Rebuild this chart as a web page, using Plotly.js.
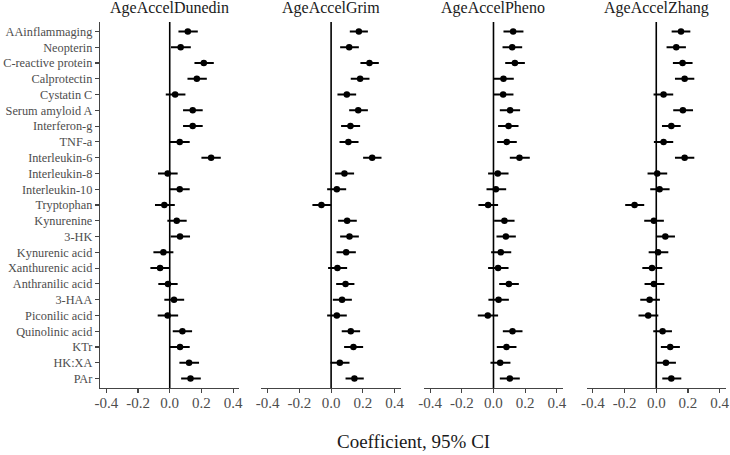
<!DOCTYPE html>
<html>
<head>
<meta charset="utf-8">
<script src="https://cdn.plot.ly/plotly-3.0.1.min.js"></script>
<style>html,body{margin:0;padding:0;background:#fff;}#chart{width:730px;height:455px;}</style>
</head>
<body>
<div id="chart"></div>
<script>
const categories = ['AAinflammaging','Neopterin','C-reactive protein','Calprotectin','Cystatin C','Serum amyloid A','Interferon-g','TNF-a','Interleukin-6','Interleukin-8','Interleukin-10','Tryptophan','Kynurenine','3-HK','Kynurenic acid','Xanthurenic acid','Anthranilic acid','3-HAA','Piconilic acid','Quinolinic acid','KTr','HK:XA','PAr'];

const panelTitles = ['AgeAccelDunedin','AgeAccelGrim','AgeAccelPheno','AgeAccelZhang'];

const dunedinEst = [0.114,0.069,0.215,0.171,0.034,0.145,0.145,0.063,0.261,-0.013,0.063,-0.034,0.044,0.065,-0.040,-0.061,-0.011,0.027,-0.013,0.080,0.065,0.122,0.131];
const dunedinLo  = [0.055,0.008,0.156,0.112,-0.025,0.084,0.084,0.000,0.200,-0.074,0.000,-0.093,-0.015,0.006,-0.103,-0.122,-0.072,-0.034,-0.076,0.019,0.000,0.061,0.072];
const dunedinHi  = [0.177,0.133,0.278,0.234,0.099,0.208,0.208,0.126,0.322,0.050,0.126,0.032,0.107,0.128,0.023,-0.002,0.050,0.091,0.053,0.141,0.126,0.185,0.196];

const grimEst = [0.175,0.114,0.242,0.183,0.099,0.171,0.122,0.109,0.259,0.084,0.036,-0.061,0.101,0.116,0.095,0.040,0.091,0.069,0.036,0.124,0.141,0.055,0.147];
const grimLo  = [0.118,0.057,0.185,0.124,0.040,0.114,0.063,0.053,0.202,0.025,-0.025,-0.118,0.044,0.057,0.034,-0.019,0.032,0.011,-0.025,0.067,0.082,-0.004,0.091];
const grimHi  = [0.232,0.175,0.301,0.242,0.158,0.232,0.183,0.173,0.318,0.145,0.095,0.000,0.162,0.175,0.156,0.101,0.147,0.131,0.099,0.183,0.202,0.116,0.206];

const phenoEst = [0.124,0.118,0.135,0.063,0.061,0.105,0.095,0.084,0.164,0.027,0.015,-0.034,0.069,0.078,0.046,0.029,0.097,0.032,-0.036,0.120,0.082,0.042,0.103];
const phenoLo  = [0.063,0.057,0.074,0.002,0.002,0.040,0.029,0.023,0.103,-0.034,-0.044,-0.095,0.004,0.019,-0.015,-0.034,0.036,-0.032,-0.099,0.059,0.021,-0.019,0.040];
const phenoHi  = [0.189,0.181,0.198,0.128,0.126,0.168,0.158,0.147,0.229,0.095,0.080,0.029,0.133,0.141,0.112,0.095,0.160,0.097,0.029,0.183,0.145,0.107,0.166];

const zhangEst = [0.156,0.126,0.166,0.179,0.046,0.168,0.095,0.046,0.179,0.006,0.021,-0.137,-0.015,0.057,0.011,-0.027,-0.015,-0.042,-0.051,0.040,0.088,0.061,0.095];
const zhangLo  = [0.097,0.065,0.105,0.118,-0.017,0.107,0.036,-0.015,0.118,-0.055,-0.038,-0.196,-0.076,-0.002,-0.048,-0.088,-0.074,-0.101,-0.112,-0.019,0.029,0.000,0.038];
const zhangHi  = [0.215,0.187,0.229,0.240,0.107,0.232,0.154,0.107,0.240,0.069,0.084,-0.076,0.048,0.118,0.076,0.038,0.051,0.023,0.013,0.099,0.149,0.124,0.158];

const tickVals = [-0.4,-0.2,0,0.2,0.4];
const tickText = ['-0.4','-0.2','0.0','0.2','0.4'];
const xTitle = 'Coefficient, 95% CI';

const series = [
  [dunedinEst, dunedinLo, dunedinHi],
  [grimEst, grimLo, grimHi],
  [phenoEst, phenoLo, phenoHi],
  [zhangEst, zhangLo, zhangHi]
];

// layout geometry (pixels)
const W = 730, H = 455;
const mL = 100, mR = 4.3, mT = 21.7, mB = 67.3;
const plotW = W - mL - mR, plotH = H - mT - mB;
const panelPx = [[100,239.4],[261.3,400.7],[423.6,563.0],[586.3,725.7]];
const FONT = 'Liberation Serif';

const traces = [];
const layout = {
  width: W, height: H,
  margin: {l: mL, r: mR, t: mT, b: mB, pad: 0},
  paper_bgcolor: '#ffffff', plot_bgcolor: 'rgba(0,0,0,0)',
  showlegend: false,
  font: {family: FONT, color: '#4d4d4d'},
  shapes: [], annotations: [],
  yaxis: {
    type: 'category', categoryorder: 'array', categoryarray: categories,
    range: [categories.length - 0.4, -0.6],
    showline: true, linecolor: '#444', linewidth: 1.2,
    ticks: 'outside', ticklen: 4, tickcolor: '#444', tickwidth: 1.1,
    showgrid: false, zeroline: false, anchor: 'x',
    tickfont: {family: FONT, size: 12.3, color: '#4d4d4d'},
    domain: [0, 1]
  }
};

series.forEach((s, i) => {
  const [est, lo, hi] = s;
  const xa = i === 0 ? 'x' : 'x' + (i + 1);
  const key = i === 0 ? 'xaxis' : 'xaxis' + (i + 1);
  traces.push({
    type: 'scatter', mode: 'markers',
    x: est, y: categories, xaxis: xa, yaxis: 'y',
    marker: {color: '#000', size: 6.5},
    error_x: {
      type: 'data', symmetric: false,
      array: est.map((v, k) => hi[k] - v),
      arrayminus: est.map((v, k) => v - lo[k]),
      color: '#000', thickness: 2, width: 0
    },
    hoverinfo: 'skip'
  });
  const d0 = (panelPx[i][0] - mL) / plotW, d1 = (panelPx[i][1] - mL) / plotW;
  layout[key] = {
    domain: [d0, d1], anchor: 'y', range: [-0.44, 0.44],
    showline: true, linecolor: '#444', linewidth: 1.2,
    ticks: 'outside', ticklen: 4, tickcolor: '#444', tickwidth: 1.1,
    ticklabelstandoff: -3,
    tickvals: tickVals, ticktext: tickText,
    tickfont: {family: FONT, size: 15, color: '#4d4d4d'},
    showgrid: false, zeroline: false
  };
  layout.shapes.push({
    type: 'line', xref: xa, yref: 'paper', x0: 0, x1: 0, y0: 0, y1: 1,
    line: {color: '#000', width: 1.6}, layer: 'below'
  });
  layout.annotations.push({
    text: panelTitles[i], xref: 'paper', yref: 'paper',
    x: (d0 + d1) / 2, y: 1 + (mT - 8) / plotH, xanchor: 'center', yanchor: 'middle',
    showarrow: false, font: {family: FONT, size: 16, color: '#1a1a1a'}
  });
});

layout.annotations.push({
  text: xTitle, xref: 'paper', yref: 'paper',
  x: 0.5, y: -(441 - (H - mB)) / plotH, xanchor: 'center', yanchor: 'middle',
  showarrow: false, font: {family: FONT, size: 19, color: '#1a1a1a'}
});

Plotly.newPlot('chart', traces, layout, {displayModeBar: false, staticPlot: true});
</script>
</body>
</html>
